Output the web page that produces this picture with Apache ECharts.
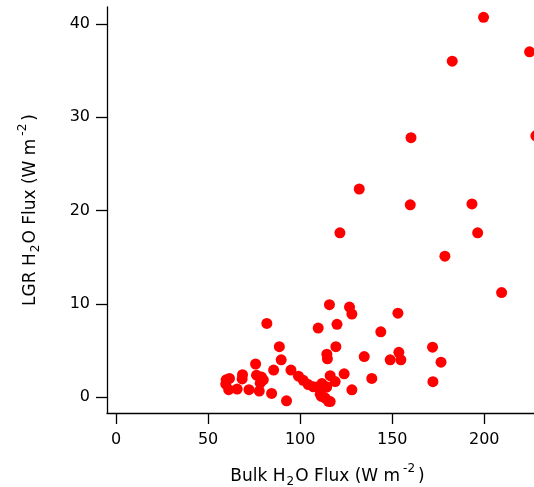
<!DOCTYPE html>
<html>
<head>
<meta charset="utf-8">
<script src="https://cdn.jsdelivr.net/npm/echarts@6/dist/echarts.min.js"></script>
<style>
  html, body { margin: 0; padding: 0; background: #fff; }
  #chart { width: 534px; height: 487px; }
</style>
</head>
<body>
<div id="chart"></div>
<script>
// Bulk-formula H2O flux vs. LGR analyzer H2O flux (W m-2)
const bulkFlux = [
  199.6, 224.6, 182.6, 160.2, 228.0, 132.1, 159.8, 193.3, 121.6, 196.4, 178.6, 209.4,
  115.9, 126.8, 128.1, 153.1, 109.8, 120.0, 143.8, 119.4, 114.5, 114.8, 134.8, 148.9,
  153.6, 154.7, 171.9, 176.5, 172.1, 138.9, 123.9, 128.1, 116.3, 119.0, 114.3, 111.6,
  111.6, 116.3,
  59.8, 61.6, 61.2, 59.6, 65.8, 68.7, 68.5, 72.2, 75.8, 76.3, 79.0, 80.0, 78.3, 77.8,
  84.5, 81.9, 88.7, 89.7, 85.6, 92.6, 95.0, 99.1, 101.7, 104.4, 107.2, 110.0, 111.8,
  114.4, 110.9, 113.6, 115.4
];
const lgrFlux = [
  40.7, 37.0, 36.0, 27.8, 28.0, 22.3, 20.6, 20.7, 17.6, 17.6, 15.1, 11.2,
  9.9, 9.65, 8.9, 9.0, 7.4, 7.8, 7.0, 5.4, 4.6, 4.1, 4.35, 4.0,
  4.8, 4.0, 5.35, 3.75, 1.65, 2.0, 2.5, 0.78, 2.3, 1.67, 1.07, 1.3,
  0.07, -0.47,
  1.85, 2.0, 0.8, 1.4, 0.86, 2.4, 1.95, 0.8, 3.55, 2.35, 2.15, 1.85, 1.5, 0.65,
  0.4, 7.9, 5.4, 4.0, 2.9, -0.4, 2.9, 2.25, 1.8, 1.35, 1.1, 1.1, 1.45,
  1.1, 0.3, -0.1, -0.45
];
const xTicks = [0, 50, 100, 150, 200];
const yTicks = [0, 10, 20, 30, 40];

const points = bulkFlux.map((x, i) => [x, lgrFlux[i]]);

const FONT = 'DejaVu Sans';
// axis titles with chemical subscript and unit superscript
const titleRich = {
  t:   { fontFamily: FONT, fontSize: 17, color: '#000', lineHeight: 28 },
  sub: { fontFamily: FONT, fontSize: 12, color: '#000', lineHeight: 12, verticalAlign: 'bottom', padding: [0, 1, 3, 1] },
  sup: { fontFamily: FONT, fontSize: 12, color: '#000', lineHeight: 12, verticalAlign: 'top', padding: [0, 3, 0, 3] }
};

const chart = echarts.init(document.getElementById('chart'), null, { renderer: 'canvas' });
chart.setOption({
  backgroundColor: '#fff',
  animation: false,
  grid: { left: 107, top: 7, right: 0, bottom: 74, containLabel: false, outerBoundsMode: 'none' },
  xAxis: {
    type: 'value',
    min: -4.9,
    max: 227,
    name: '{t|Bulk H}{sub|2}{t|O Flux (W m}{sup|-2}{t|)}',
    nameLocation: 'middle',
    nameGap: 50,
    nameTextStyle: { rich: titleRich, padding: [0, 0, 0, 14] },
    axisLine: { show: true, onZero: false, lineStyle: { color: '#000', width: 1.3 } },
    axisTick: { show: true, inside: false, length: 11, customValues: xTicks, lineStyle: { color: '#000', width: 1.3 } },
    axisLabel: { customValues: xTicks, margin: 19, fontFamily: FONT, fontSize: 16, color: '#000' },
    splitLine: { show: false }
  },
  yAxis: {
    type: 'value',
    min: -1.7,
    max: 41.8,
    name: '{t|LGR H}{sub|2}{t|O Flux (W m}{sup|-2}{t|)}',
    nameLocation: 'middle',
    nameGap: 62,
    nameRotate: 90,
    nameTextStyle: { rich: titleRich },
    axisLine: { show: true, onZero: false, lineStyle: { color: '#000', width: 1.3 } },
    axisTick: { show: true, inside: false, length: 11, customValues: yTicks, lineStyle: { color: '#000', width: 1.3 } },
    axisLabel: { customValues: yTicks, margin: 17, fontFamily: FONT, fontSize: 16, color: '#000' },
    splitLine: { show: false }
  },
  series: [{
    type: 'scatter',
    data: points,
    clip: false,
    symbol: 'circle',
    symbolSize: 11,
    itemStyle: { color: '#ff0000', opacity: 1 }
  }]
});
</script>
</body>
</html>
